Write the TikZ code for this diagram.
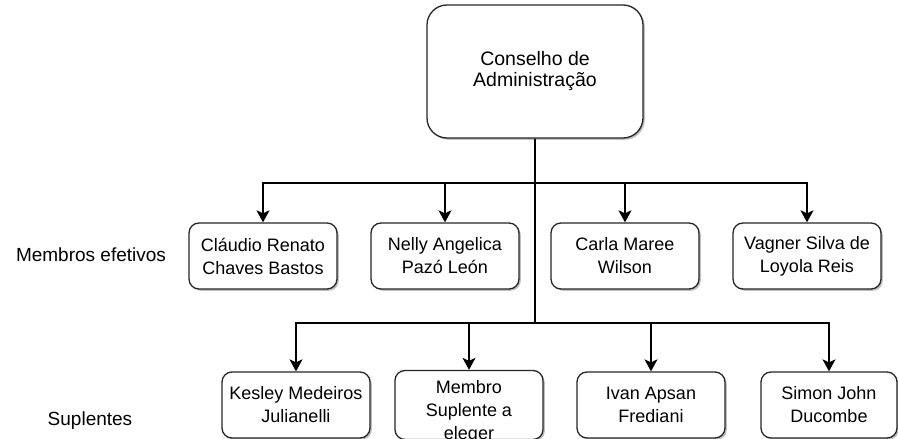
\documentclass[tikz,border=0pt]{standalone}
\usepackage{fontspec}
\setmainfont{Liberation Sans}
\usetikzlibrary{arrows.meta,shadows}
\begin{document}
\begin{tikzpicture}[x=1pt,y=-1pt,
  boxbase/.style={draw=black!85, line width=1.3pt, fill=white, align=center, inner sep=0pt,
    drop shadow={shadow xshift=1.8pt, shadow yshift=-1.8pt, fill=black!50, opacity=0.5}},
  member/.style={boxbase, rounded corners=10pt, minimum width=148pt, minimum height=66pt,
    font=\fontsize{18}{23}\selectfont},
  chief/.style={boxbase, rounded corners=20pt, minimum width=216pt, minimum height=133pt,
    font=\fontsize{19.5}{21}\selectfont},
  rowlabel/.style={font=\fontsize{19}{23}\selectfont, inner sep=0pt},
  conn/.style={line width=1.5pt, -{Stealth[length=12pt,width=13pt,inset=3pt]}}]
\useasboundingbox (0,0) rectangle (898,439);

\node[chief] (top) at (535,71.5) {Conselho de\\Administração};

\node[member] (a1) at (263,256) {Cláudio Renato\\Chaves Bastos};
\node[member] (a2) at (445,256) {Nelly Angelica\\Pazó León};
\node[member] (a3) at (625,256) {Carla Maree\\Wilson};
\node[member] (a4) at (807,256) {Vagner Silva de\\Loyola Reis};

\node[member] (b1) at (296,405) {Kesley Medeiros\\Julianelli};
\node[member] (b2) at (469,405) {\raisebox{-7pt}[\height][\depth]{\begin{tabular}{@{}c@{}}Membro\\Suplente a\\eleger\end{tabular}}};
\node[member] (b3) at (651,405) {Ivan Apsan\\Frediani};
\node[member, minimum width=136pt] (b4) at (829,405) {Simon John\\Ducombe};

\node[rowlabel] (l1) at (91,255) {Membros efetivos};
\node[rowlabel] (l2) at (90,421) {Suplentes};

\coordinate (bus1) at (535,183);
\coordinate (bus2) at (535,323);

\foreach \n in {a1,a2,a3,a4}{
  \draw[conn] (top.south) -- (bus1) -| (\n.north);
}
\foreach \n in {b1,b2,b3,b4}{
  \draw[conn] (top.south) -- (bus2) -| (\n.north);
}
\end{tikzpicture}
\end{document}
